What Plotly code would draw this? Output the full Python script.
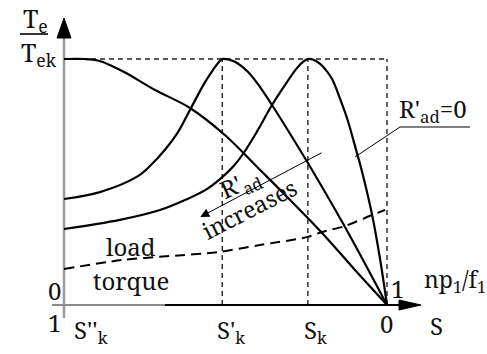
import plotly.graph_objects as go

# ---- data: per-unit electromagnetic torque T_e/T_ek versus slip S ----
# S = 1 at standstill (left), S = 0 at synchronous speed (right)
crit_slip = [1.0, 0.51, 0.245]                      # S''_k, S'_k, S_k
crit_labels = ["S''<sub>k</sub>", "S'<sub>k</sub>", "S<sub>k</sub>"]

# curve with critical slip S''_k (largest added rotor resistance)
s_k2 = [1.0, 0.935, 0.895, 0.855, 0.808, 0.718, 0.610, 0.502, 0.399, 0.300, 0.201, 0.099, 0.0]
t_k2 = [1.0, 1.0, 0.994, 0.974, 0.943, 0.874, 0.801, 0.691, 0.557, 0.427, 0.293, 0.142, 0.0]

# curve with critical slip S'_k
s_k1 = [1.0, 0.889, 0.771, 0.734, 0.688, 0.647, 0.610, 0.563, 0.541, 0.523, 0.51,
        0.486, 0.464, 0.430, 0.393, 0.356, 0.294, 0.232, 0.130, 0.0]
t_k1 = [0.431, 0.459, 0.524, 0.565, 0.630, 0.703, 0.793, 0.907, 0.951, 0.984, 1.0,
        0.996, 0.984, 0.947, 0.886, 0.813, 0.683, 0.549, 0.317, 0.0]

# natural curve, critical slip S_k (R'_ad = 0)
s_k0 = [1.0, 0.827, 0.703, 0.625, 0.563, 0.517, 0.474, 0.440, 0.402, 0.356, 0.316, 0.279,
        0.260, 0.245, 0.226, 0.207, 0.189, 0.170, 0.146, 0.121, 0.099, 0.077, 0.046, 0.022, 0.0]
t_k0 = [0.309, 0.346, 0.386, 0.427, 0.467, 0.512, 0.566, 0.625, 0.706, 0.813, 0.894, 0.963,
        0.988, 1.0, 0.996, 0.980, 0.955, 0.919, 0.841, 0.748, 0.646, 0.541, 0.366, 0.191, 0.0]

# load torque characteristic
s_load = [1.0, 0.820, 0.672, 0.523, 0.393, 0.248, 0.201, 0.130, 0.046, 0.006]
t_load = [0.146, 0.183, 0.199, 0.215, 0.244, 0.276, 0.297, 0.321, 0.366, 0.386]

# ---- canvas geometry ----
W, H = 487, 354
X_S1, X_S0 = 64, 387        # pixel columns of S = 1 and S = 0
Y_T0, Y_T1 = 305, 59        # pixel rows of T = 0 and T = 1
sx = 1.0 / (X_S0 - X_S1)
ty = 1.0 / (Y_T0 - Y_T1)
x_range = [1 + X_S1 * sx, -(W - X_S0) * sx]
y_range = [-(H - Y_T0) * ty, Y_T0 * ty]


def px(x, y):
    """Pixel position -> paper coordinates."""
    return x / W, 1 - y / H


FONT = "Noto Serif, DejaVu Serif"
INK = "#111111"

fig = go.Figure()

curve_style = dict(color="black", width=2.2, shape="spline", smoothing=1.0)
for s, t in [(s_k2, t_k2), (s_k1, t_k1), (s_k0, t_k0)]:
    fig.add_trace(go.Scatter(x=s, y=t, mode="lines", line=curve_style,
                             hoverinfo="skip", showlegend=False))

fig.add_trace(go.Scatter(x=s_load, y=t_load, mode="lines",
                         line=dict(color="black", width=2, dash="10px,6px",
                                   shape="spline", smoothing=0.8),
                         hoverinfo="skip", showlegend=False))

shapes = []
dash_style = dict(color="#222222", width=1.4, dash="5px,4px")
# dashed guides at T = 1 and at the critical slips / S = 0
shapes.append(dict(type="line", xref="x", yref="y", x0=1.0, x1=0.0, y0=1.0, y1=1.0,
                   line=dash_style, layer="below"))
for s in crit_slip[1:] + [0.0]:
    shapes.append(dict(type="line", xref="x", yref="y", x0=s, x1=s, y0=0.0, y1=1.0,
                       line=dash_style, layer="below"))

# vertical axis (grey) with arrowhead
ax0, ay0 = px(X_S1, 318)
ax1, ay1 = px(X_S1, 36)
shapes.append(dict(type="line", xref="paper", yref="paper", x0=ax0, y0=ay0, x1=ax1, y1=ay1,
                   line=dict(color="#9a9a9a", width=2.5), layer="below"))
tx, tyy = px(X_S1, 18)
bl = px(X_S1 - 7, 38)
br = px(X_S1 + 7, 38)
shapes.append(dict(type="path", xref="paper", yref="paper",
                   path=f"M {tx},{tyy} L {bl[0]},{bl[1]} L {br[0]},{br[1]} Z",
                   fillcolor="black", line=dict(color="black", width=1)))

# horizontal axis with arrowhead
g0 = px(52, Y_T0)
g1 = px(165, Y_T0)
g2 = px(402, Y_T0)
shapes.append(dict(type="line", xref="paper", yref="paper", x0=g0[0], y0=g0[1], x1=g1[0], y1=g1[1],
                   line=dict(color="#8a8a8a", width=2)))
shapes.append(dict(type="line", xref="paper", yref="paper", x0=g1[0], y0=g1[1], x1=g2[0], y1=g2[1],
                   line=dict(color="black", width=2)))
ht = px(421, Y_T0)
hb1 = px(399, Y_T0 - 5)
hb2 = px(399, Y_T0 + 5)
shapes.append(dict(type="path", xref="paper", yref="paper",
                   path=f"M {ht[0]},{ht[1]} L {hb1[0]},{hb1[1]} L {hb2[0]},{hb2[1]} Z",
                   fillcolor="black", line=dict(color="black", width=1)))

# fraction bar of the ordinate label
f0 = px(20, 34)
f1 = px(48, 34)
shapes.append(dict(type="line", xref="paper", yref="paper", x0=f0[0], y0=f0[1], x1=f1[0], y1=f1[1],
                   line=dict(color="black", width=1.6)))

# leader line for R'_ad = 0
l0 = px(470, 127)
l1 = px(400, 127)
l2 = px(355, 157)
shapes.append(dict(type="path", xref="paper", yref="paper",
                   path=f"M {l0[0]},{l0[1]} L {l1[0]},{l1[1]} L {l2[0]},{l2[1]}",
                   line=dict(color="black", width=1)))

annotations = []


def label(text, x, y, size=24, xanchor="center", yanchor="middle", angle=0):
    px_, py_ = px(x, y)
    annotations.append(dict(text=text, x=px_, y=py_, xref="paper", yref="paper",
                            xanchor=xanchor, yanchor=yanchor, showarrow=False,
                            textangle=angle,
                            font=dict(family=FONT, size=size, color=INK)))


label("T<sub>e</sub>", 35, 19, size=25)
label("T<sub>ek</sub>", 39, 53, size=25)
label("0", 54, 290)
label("1", 54, 322)
label("load", 131, 246)
label("torque", 131, 280)
label("R'<sub>ad</sub>", 240, 184, angle=-24)
label("increases", 249, 209, size=23, angle=-27)
label("R'<sub>ad</sub>=0", 397, 110, xanchor="left")
label("1", 397, 288)
label("np<sub>1</sub>/f<sub>1</sub>", 422, 280, size=23, xanchor="left")
label("0", 386, 323)
label("S", 436, 325)

# critical-slip tick labels under the abscissa
shifts = [8, -7, -6]
for s, txt, dx in zip(crit_slip, crit_labels, shifts):
    annotations.append(dict(text=txt, x=s, y=px(0, 311)[1], xref="x", yref="paper",
                            xanchor="left", yanchor="top", xshift=dx, showarrow=False,
                            font=dict(family=FONT, size=24, color=INK)))

# arrow showing the direction of increasing R'_ad
annotations.append(dict(x=0.578, y=0.358, ax=0.198, ay=0.622, xref="x", yref="y",
                        axref="x", ayref="y", text="", showarrow=True,
                        arrowhead=2, arrowsize=1.8, arrowwidth=1, arrowcolor="black"))

fig.update_layout(
    width=W, height=H, autosize=False,
    margin=dict(l=0, r=0, t=0, b=0),
    paper_bgcolor="white", plot_bgcolor="white",
    xaxis=dict(range=x_range, visible=False, fixedrange=True),
    yaxis=dict(range=y_range, visible=False, fixedrange=True),
    shapes=shapes, annotations=annotations,
    showlegend=False,
)

fig.write_html("out.html")
